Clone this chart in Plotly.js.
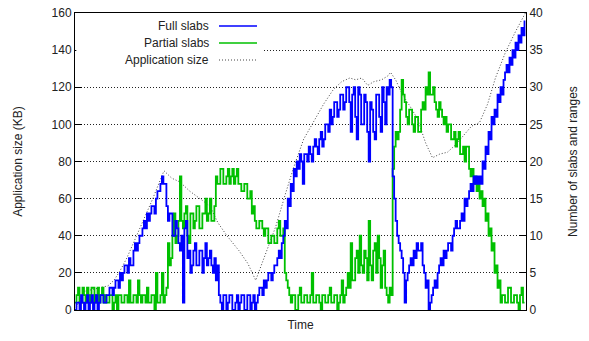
<!DOCTYPE html>
<html><head><meta charset="utf-8">
<script src="https://cdn.plot.ly/plotly-3.0.1.min.js"></script>
<style>html,body{margin:0;padding:0;background:#fff}#chart{width:589px;height:341px}</style>
</head><body><div id="chart"></div>
<script>
// Slab counts sampled every half time step
var fullSlabs = [
  0,1, 1,0, 2,1, 0,1, 2,0, 1,2, 0,1, 2,0, 1,2, 2,1,
  1,2, 2,3, 3,2, 3,4, 4,3, 5,4, 5,6, 6,5, 7,6, 6,8,
  9,8, 9,10, 10,11, 12,11, 13,12, 13,14, 14,13, 15,16, 16,17, 18,17,
  17,14, 12,13, 13,10, 10,12, 11,9, 8,10, 1,11, 12,7, 8,5, 6,8,
  9,6, 6,8, 8,5, 7,9, 6,7, 8,6, 5,7, 4,6, 2,1, 0,2,
  2,0, 1,2, 2,0, 0,1, 2,0, 1,2, 2,0, 0,2, 2,0, 1,2,
  0,1, 2,3, 3,2, 4,3, 4,5, 5,4, 5,6, 6,7, 8,7, 9,10,
  12,11, 15,14, 17,16, 19,18, 20,19, 21,20, 17,21, 21,20, 22,21, 20,22,
  23,22, 21,23, 24,22, 23,25, 25,24, 27,25, 26,28, 28,26, 27,29, 29,27,
  28,30, 30,28, 24,29, 30,26, 23,30, 29,25, 25,29, 28,24, 20,28, 27,24,
  23,29, 29,26, 24,30, 28,25, 30,29, 31,30, 18,15, 12,10, 9,8, 7,5,
  1,4, 5,6, 7,6, 8,7, 9,8, 8,9, 6,5, 3,4, 0,1, 2,3,
  4,3, 5,6, 7,6, 8,7, 8,9, 9,8, 10,11, 12,11, 11,12, 13,12,
  15,14, 15,16, 17,16, 18,17, 18,17, 18,17, 20,19, 22,21, 24,23, 26,25,
  27,26, 29,28, 30,29, 31,32, 33,32, 34,33, 35,34, 36,35, 37,36, 38,37,
  39];
var partialSlabs = [
  1,2, 3,1, 1,3, 2,1, 3,2, 1,3, 3,1, 2,3, 1,2, 3,1,
  2,1, 1,2, 2,0, 1,2, 0,2, 2,1, 1,2, 2,1, 4,1, 1,2,
  2,1, 4,2, 1,2, 2,1, 3,1, 1,2, 2,0, 5,1, 1,2, 5,1,
  2,3, 9,6, 7,10, 13,9, 10,12, 18,12, 11,13, 14,10, 9,13, 13,11,
  12,14, 14,11, 11,13, 13,15, 12,13, 15,12, 12,14, 18,17, 17,19, 19,17,
  17,18, 19,17, 18,19, 17,18, 19,17, 17,16, 16,17, 17,15, 15,16, 13,14,
  12,11, 11,12, 12,11, 10,11, 11,9, 9,10, 10,9, 9,11, 12,10, 10,11,
  5,4, 3,2, 1,2, 2,0, 0,2, 3,1, 1,2, 2,1, 1,2, 5,1,
  1,2, 2,1, 0,2, 2,1, 1,2, 3,1, 1,2, 2,0, 1,2, 4,1,
  2,3, 5,3, 9,4, 4,7, 8,5, 10,6, 5,8, 7,4, 12,6, 4,8,
  9,5, 10,7, 3,6, 8,3, 2,1, 3,2, 19,22, 24,23, 24,27, 31,29,
  28,26, 25,27, 27,25, 24,26, 26,24, 24,27, 28,27, 30,29, 32,29, 29,30,
  28,27, 26,28, 27,26, 25,26, 24,25, 25,23, 23,24, 22,23, 24,21, 21,22,
  20,22, 22,19, 18,19, 17,18, 16,17, 15,16, 14,15, 12,13, 10,11, 8,9,
  5,6, 3,4, 1,2, 2,1, 1,3, 3,1, 1,2, 2,1, 0,2, 3,1,
  1];
var appTime = [0,3,5.7,8.3,11,13,15,17.3,21.7,25.7,29.7,32.3,35,38.3,41.7,43.3,45,47.7,50.7,54.7,57.7,60.3,63.7,67,70.3,73,76.3,79.7,83,86.3,89,91.7,93.7,95.7,97.7,99.7,102.3,104.3,105.3,107,109.3,111.7,114.3,117,119.3,121.7,124.3,127,129.7,132.3,135,137.7,140.3,143.7,147,150.3];
var appSize = [0,10,11,12,13,16,21,28,44,59,75,71,69,64,60,58,56,47,40,32,25,16,31,45,63,77,92,102,111,119,123,125,124,125,121,123,124,126,128,124,116,110,103,90,82,84,85,89,94,99,101,111,125,139,150,160];
var leftTicks = [0,20,40,60,80,100,120,140,160];
var rightTicks = [0,5,10,15,20,25,30,35,40];
var legendNames = ['Full slabs','Partial slabs','Application size'];

var t = fullSlabs.map(function(_, i){ return i*0.5; });
var FONT = {family:'Liberation Sans, Arial, sans-serif', size:12, color:'#222'};

var traces = [
  {x:t, y:partialSlabs, yaxis:'y2', mode:'lines', line:{color:'#00c000', width:1.8, shape:'hv'}, name:legendNames[1], showlegend:false},
  {x:t, y:fullSlabs, yaxis:'y2', mode:'lines', line:{color:'#0000ff', width:1.8, shape:'hv'}, name:legendNames[0], showlegend:false},
  {x:appTime, y:appSize, yaxis:'y', mode:'lines', line:{color:'#444', width:1, dash:'1px,2px'}, name:legendNames[2], showlegend:false}
];

// legend drawn gnuplot-style: text right-aligned, sample to the right
var legY = [26, 43, 60];
var legStyles = [{color:'#0000ff', width:1.5}, {color:'#00c000', width:1.5}, {color:'#444', width:1, dash:'1px,2px'}];
var shapes = [{type:'rect', xref:'paper', yref:'paper', layer:'above',
  x0:0.003, x1:(262-75)/451, y0:1-(70-13)/297, y1:0.997, fillcolor:'#fff', line:{width:0}}];
var annotations = [];
for (var i=0;i<3;i++){
  var yp = 1-(legY[i]-13)/297;
  shapes.push({type:'line', xref:'paper', yref:'paper', layer:'above', x0:(219-75)/451, x1:(257-75)/451, y0:yp, y1:yp, line:legStyles[i]});
  annotations.push({xref:'paper', yref:'paper', x:(211-75)/451, y:yp, xanchor:'right', yanchor:'middle', text:legendNames[i], showarrow:false, font:FONT});
}

var layout = {
  width:589, height:341, margin:{l:75, r:63, t:13, b:31},
  paper_bgcolor:'#fff', plot_bgcolor:'#fff', showlegend:false, font:FONT,
  xaxis:{range:[0,150.5], showticklabels:false, ticks:'', showgrid:false, zeroline:false,
    showline:true, linecolor:'#000', linewidth:1, mirror:true,
    title:{text:'Time', font:FONT, standoff:10}},
  yaxis:{range:[0,160], tickvals:leftTicks, ticks:'inside', ticklen:7, tickcolor:'#000',
    showgrid:true, gridcolor:'#222', griddash:'1px,2px', gridwidth:1, zeroline:false,
    showline:true, linecolor:'#000', linewidth:1, tickfont:FONT,
    title:{text:'Application size (KB)', font:FONT, standoff:26}},
  yaxis2:{range:[0,40], tickvals:rightTicks, overlaying:'y', side:'right', ticks:'inside', ticklen:7, tickcolor:'#000',
    showgrid:false, zeroline:false, showline:true, linecolor:'#000', linewidth:1, tickfont:FONT,
    title:{text:'Number of slabs and ranges', font:FONT, standoff:26}},
  shapes:shapes, annotations:annotations
};
Plotly.newPlot('chart', traces, layout, {staticPlot:true, displayModeBar:false});
</script></body></html>
